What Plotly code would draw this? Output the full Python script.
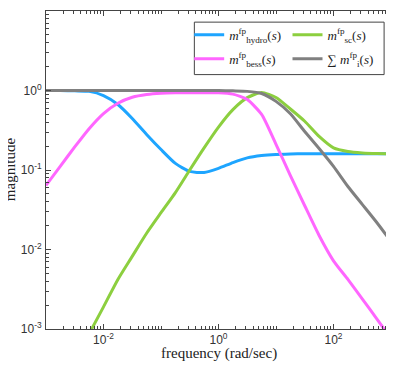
import plotly.graph_objects as go

# frequency samples (rad/sec), quarter-decade spacing
freq = [0.001, 0.00178, 0.00316, 0.00562, 0.01, 0.0178, 0.0316, 0.0562,
        0.1, 0.178, 0.316, 0.562, 1.0, 1.78, 3.16, 5.62,
        10.0, 17.8, 31.6, 56.2, 100.0, 178.0, 316.0, 562.0, 1000.0]

m_hydro = [1.0, 1.0, 0.99, 0.975, 0.865, 0.667, 0.445, 0.28,
           0.181, 0.121, 0.096, 0.093, 0.105, 0.124, 0.142, 0.152,
           0.157, 0.159, 0.16, 0.16, 0.16, 0.16, 0.16, 0.16, 0.16]

m_bess = [0.064, 0.112, 0.195, 0.331, 0.513, 0.692, 0.822, 0.891,
          0.925, 0.935, 0.935, 0.935, 0.935, 0.90, 0.77, 0.50,
          0.21, 0.085, 0.0355, 0.015, 0.0072, 0.0042, 0.0024, 0.00135, 0.00076]

# supercap curve starts below the visible range
freq_sc = freq[3:]
m_sc = [0.00087, 0.0019, 0.0042, 0.0082, 0.016,
        0.029, 0.052, 0.1, 0.19, 0.347, 0.575, 0.813, 0.944,
        0.817, 0.585, 0.41, 0.264, 0.19, 0.171, 0.164, 0.161, 0.16]

m_sum = [1.0, 1.0, 1.0, 1.0, 1.0, 1.0, 1.0, 1.0,
         1.0, 1.0, 1.0, 1.0, 1.0, 0.99, 0.975, 0.917,
         0.73, 0.51, 0.305, 0.186, 0.111, 0.062, 0.037, 0.022, 0.0126]

x_ticks = [0.01, 1, 100]
x_labels = ["10<sup>-2</sup>", "10<sup>0</sup>", "10<sup>2</sup>"]
y_ticks = [0.001, 0.01, 0.1, 1, 10]
y_labels = ["10<sup>-3</sup>", "10<sup>-2</sup>", "10<sup>-1</sup>",
            "10<sup>0</sup>", "10<sup>1</sup>"]

serif = "Liberation Serif"
sans = "Liberation Sans"

# (x, y, colour, legend label, legend column)
traces = [
    (freq, m_hydro, "#1ea5ff", "<i>m</i><sup>fp</sup><sub>hydro</sub>(<i>s</i>)", "legend"),
    (freq_sc, m_sc, "#8ccf3f", "<i>m</i><sup>fp</sup><sub>sc</sub>(<i>s</i>)", "legend2"),
    (freq, m_bess, "#ff66ff", "<i>m</i><sup>fp</sup><sub>bess</sub>(<i>s</i>)", "legend"),
    (freq, m_sum, "#808080", "\u2211 <i>m</i><sup>fp</sup><sub>i</sub>(<i>s</i>)", "legend2"),
]

fig = go.Figure()
for i, (xs, ys, col, name, leg) in enumerate(traces):
    fig.add_trace(go.Scatter(x=xs, y=ys, mode="lines", name=name, legend=leg,
                             legendgroup=f"g{i}",
                             line=dict(color=col, width=3, shape="spline",
                                       smoothing=0.6)))

minor_x = [k * 10 ** e for e in range(-3, 3) for k in range(2, 10)]
minor_y = [k * 10 ** e for e in range(-3, 1) for k in range(2, 10)]

axis_common = dict(
    type="log", showgrid=False, zeroline=False, automargin=False,
    showline=True, linecolor="#444", linewidth=1, mirror="allticks",
    ticks="inside", ticklen=5, tickcolor="#444",
    tickfont=dict(family=sans, size=12, color="#333"),
)

fig.update_xaxes(axis_common, range=[-3, 3], tickvals=x_ticks, ticktext=x_labels,
                 minor=dict(ticks="inside", ticklen=3, tickcolor="#444",
                            tickvals=minor_x + [0.1, 10]))
fig.update_yaxes(axis_common, range=[-3, 1], tickvals=y_ticks, ticktext=y_labels,
                 ticklabelstandoff=1,
                 minor=dict(ticks="inside", ticklen=3, tickcolor="#444",
                            tickvals=minor_y))

title_font = dict(family=serif, size=15, color="#222")
fig.add_annotation(text="frequency (rad/sec)", xref="paper", yref="paper",
                   x=0.5, y=-0.077, xanchor="center", yanchor="middle",
                   showarrow=False, font=title_font)
fig.add_annotation(text="magnitude", xref="paper", yref="paper",
                   x=-0.104, y=0.503, xanchor="center", yanchor="middle",
                   textangle=-90, showarrow=False, font=title_font)

# legend frame
fig.add_shape(type="rect", xref="paper", yref="paper",
              x0=0.43, x1=0.98, y0=0.80, y1=0.965,
              line=dict(color="#444", width=1), fillcolor="white", layer="below")

leg_common = dict(orientation="v", yanchor="top", xanchor="left", y=0.972,
                  bgcolor="rgba(0,0,0,0)", borderwidth=0, itemwidth=30,
                  tracegroupgap=4, font=dict(family=serif, size=13, color="#222"))

# the page body adds an 8px offset, so the figure itself is 8px smaller
fig.update_layout(
    width=386, height=359,
    margin=dict(l=38, r=3, t=3, b=38),
    plot_bgcolor="white", paper_bgcolor="white",
    showlegend=True,
    legend=dict(leg_common, x=0.415),
    legend2=dict(leg_common, x=0.70),
)

fig.write_html("out.html")
